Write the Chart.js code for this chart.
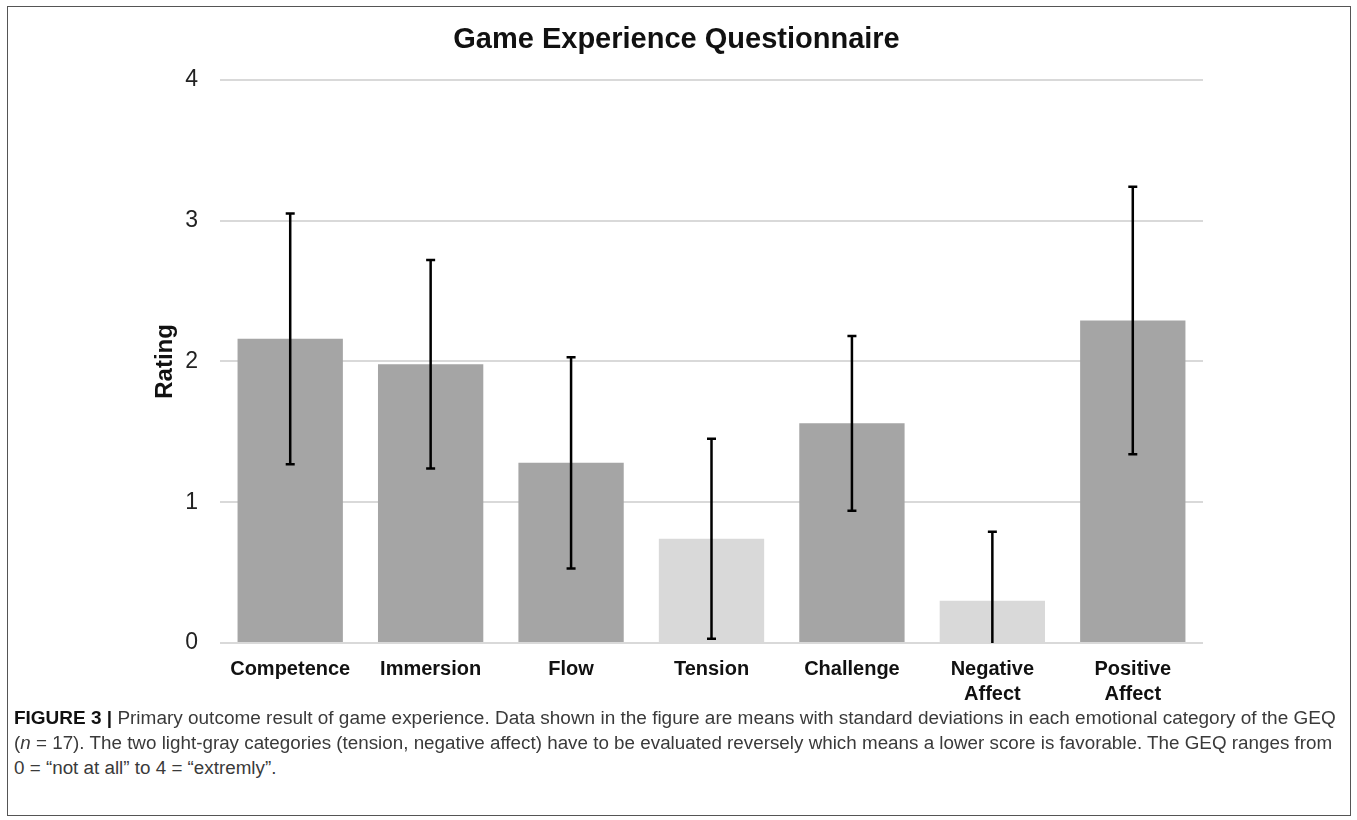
<!DOCTYPE html>
<html>
<head>
<meta charset="utf-8">
<script src="https://cdn.jsdelivr.net/npm/chart.js@4.4.1/dist/chart.umd.min.js"></script>
<style>
    html, body { margin: 0; padding: 0; background: #fff; }
    body { width: 1357px; height: 820px; position: relative; overflow: hidden; }
    #frame { position: absolute; left: 7px; top: 6px; width: 1342px; height: 808px; border: 1.5px solid #555; }
    #chart { position: absolute; left: 0; top: 0; }
    .cap { position: absolute; left: 14px; font-family: "Liberation Sans", Arial, sans-serif; font-size: 18px;
           color: #3a3a3a; white-space: nowrap; transform-origin: 0 0; line-height: 20px; }
    .cap b { color: #111; }
</style>
</head>
<body>
<div id="frame"></div>
<canvas id="chart" width="1357" height="720"></canvas>
<div class="cap" id="cap1" style="top:708px"><b>FIGURE 3 |</b> Primary outcome result of game experience. Data shown in the figure are means with standard deviations in each emotional category of the GEQ</div>
<div class="cap" id="cap2" style="top:733px">(<i>n</i> = 17). The two light-gray categories (tension, negative affect) have to be evaluated reversely which means a lower score is favorable. The GEQ ranges from</div>
<div class="cap" id="cap3" style="top:758px">0 = “not at all” to 4 = “extremly”.</div>
<script>
// GEQ categories, means and standard deviations (n = 17)
const categories = ['Competence', 'Immersion', 'Flow', 'Tension', 'Challenge', ['Negative', 'Affect'], ['Positive', 'Affect']];
const means = [2.16, 1.98, 1.28, 0.74, 1.56, 0.30, 2.29];
const sds = [0.89, 0.74, 0.75, 0.71, 0.62, 0.49, 0.95];
// categories that are scored reversely (drawn light gray)
const reversed = [false, false, false, true, false, true, false];
const yTicks = [0, 1, 2, 3, 4];

const darkGray = '#a5a5a5';
const lightGray = '#d9d9d9';
const font = 'Liberation Sans, Arial, sans-serif';

// error bars drawn on top of the bars
const errorBars = {
    id: 'errorBars',
    afterDatasetsDraw(chart) {
        const ctx = chart.ctx;
        const y = chart.scales.y;
        const meta = chart.getDatasetMeta(0);
        ctx.save();
        ctx.strokeStyle = '#000';
        ctx.lineWidth = 2.5;
        meta.data.forEach((bar, i) => {
            const lo = Math.max(y.min, means[i] - sds[i]);
            const hi = means[i] + sds[i];
            const yHi = y.getPixelForValue(hi);
            const yLo = y.getPixelForValue(lo);
            ctx.beginPath();
            ctx.moveTo(bar.x, yHi);
            ctx.lineTo(bar.x, yLo);
            ctx.moveTo(bar.x - 4.5, yHi);
            ctx.lineTo(bar.x + 4.5, yHi);
            if (means[i] - sds[i] > y.min) {
                ctx.moveTo(bar.x - 4.5, yLo);
                ctx.lineTo(bar.x + 4.5, yLo);
            }
            ctx.stroke();
        });
        ctx.restore();
    }
};

new Chart(document.getElementById('chart'), {
    type: 'bar',
    data: {
        labels: categories,
        datasets: [{
            data: means,
            backgroundColor: reversed.map(r => r ? lightGray : darkGray),
            borderWidth: 0,
            barPercentage: 0.75,
            categoryPercentage: 1
        }]
    },
    options: {
        responsive: false,
        animation: false,
        devicePixelRatio: 1,
        layout: { padding: { left: 150, right: 154, top: 0, bottom: 7 } },
        plugins: {
            legend: { display: false },
            tooltip: { enabled: false },
            title: {
                display: true,
                text: 'Game Experience Questionnaire',
                color: '#111',
                font: { family: font, size: 29, weight: 'bold' },
                padding: { top: 23, bottom: 22 }
            }
        },
        scales: {
            x: {
                grid: { display: false, drawTicks: false },
                border: { display: false },
                ticks: {
                    color: '#111',
                    maxRotation: 0,
                    autoSkip: false,
                    padding: 14,
                    font: { family: font, size: 20, weight: 'bold', lineHeight: 1.25 }
                },
                afterFit(scale) { scale.height = 70; }
            },
            y: {
                min: yTicks[0],
                max: yTicks[yTicks.length - 1],
                afterBuildTicks(scale) { scale.ticks = yTicks.map(v => ({ value: v })); },
                grid: { color: '#d9d9d9', lineWidth: 2, drawTicks: false },
                border: { display: false },
                ticks: {
                    color: '#222',
                    padding: 22,
                    font: { family: font, size: 23 }
                },
                title: {
                    display: true,
                    text: 'Rating',
                    color: '#111',
                    padding: { top: 1, bottom: 0 },
                    font: { family: font, size: 24, weight: 'bold' }
                },
                afterFit(scale) { scale.width = 70; }
            }
        }
    },
    plugins: [errorBars]
});

// stretch the caption lines to the width they have in the figure
const capWidth = 1322;
const w1 = document.getElementById('cap1').scrollWidth;
const w2 = document.getElementById('cap2').scrollWidth;
document.getElementById('cap1').style.transform = `scaleX(${capWidth / w1})`;
document.getElementById('cap2').style.transform = `scaleX(${(capWidth - 4) / w2})`;
document.getElementById('cap3').style.transform = `scaleX(${(capWidth - 4) / w2})`;
</script>
</body>
</html>
